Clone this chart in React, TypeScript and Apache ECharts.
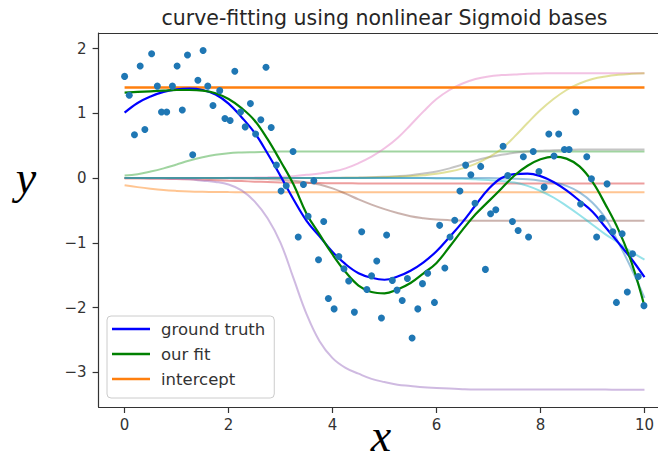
import React, { useEffect, useRef } from "react";
import * as echarts from "echarts";

// x positions at which the smooth curves are sampled (0 .. 10, step 0.25)
const curveX = [
  0, 0.25, 0.5, 0.75, 1, 1.25, 1.5, 1.75, 2, 2.25, 2.5, 2.75, 3, 3.25, 3.5, 3.75,
  4, 4.25, 4.5, 4.75, 5, 5.25, 5.5, 5.75, 6, 6.25, 6.5, 6.75, 7, 7.25, 7.5, 7.75,
  8, 8.25, 8.5, 8.75, 9, 9.25, 9.5, 9.75, 10,
];

const groundTruth = [
  1.01, 1.16, 1.26, 1.33, 1.37, 1.38, 1.36, 1.29, 1.15, 0.94, 0.7, 0.38,
  0.03, -0.33, -0.66, -0.9, -1.14, -1.33, -1.47, -1.54, -1.57, -1.52, -1.43, -1.3,
  -1.13, -0.91, -0.68, -0.42, -0.17, 0.0, 0.06, 0.07, 0.03, -0.06, -0.19, -0.35,
  -0.52, -0.76, -1.0, -1.25, -1.53,
];

const ourFit = [
  1.32, 1.33, 1.34, 1.35, 1.36, 1.36, 1.35, 1.31, 1.22, 1.08, 0.89, 0.6,
  0.26, -0.1, -0.55, -0.87, -1.18, -1.45, -1.66, -1.76, -1.78, -1.72, -1.62, -1.47,
  -1.31, -1.06, -0.8, -0.56, -0.36, -0.16, 0.04, 0.19, 0.29, 0.33, 0.3, 0.18,
  -0.06, -0.41, -0.8, -1.3, -1.98,
];

const interceptX = [0, 10];
const interceptY = [1.4, 1.4];

// individual weighted sigmoid bases (matplotlib colour cycle order)
const basisC1 = [
  -0.11, -0.14, -0.165, -0.185, -0.198, -0.207, -0.212, -0.215, -0.217, -0.218, -0.219, -0.22,
  -0.22, -0.22, -0.22, -0.22, -0.22, -0.22, -0.22, -0.22, -0.22, -0.22, -0.22, -0.22,
  -0.22, -0.22, -0.22, -0.22, -0.22, -0.22, -0.22, -0.22, -0.22, -0.22, -0.22, -0.22,
  -0.22, -0.22, -0.22, -0.22, -0.22,
];
const basisC2 = [
  0.04, 0.06, 0.1, 0.15, 0.21, 0.27, 0.32, 0.36, 0.385, 0.395, 0.4, 0.405,
  0.41, 0.41, 0.41, 0.41, 0.41, 0.41, 0.41, 0.41, 0.41, 0.41, 0.41, 0.41,
  0.41, 0.41, 0.41, 0.41, 0.41, 0.41, 0.41, 0.41, 0.41, 0.41, 0.41, 0.41,
  0.41, 0.41, 0.41, 0.41, 0.41,
];
const basisC3 = [
  -0.005, -0.007, -0.01, -0.012, -0.015, -0.02, -0.025, -0.032, -0.04, -0.047, -0.055, -0.061,
  -0.067, -0.071, -0.075, -0.078, -0.08, -0.081, -0.082, -0.082, -0.082, -0.082, -0.082, -0.082,
  -0.082, -0.082, -0.082, -0.082, -0.082, -0.082, -0.082, -0.082, -0.082, -0.082, -0.082, -0.082,
  -0.082, -0.082, -0.082, -0.082, -0.082,
];
const basisC4 = [
  0, 0, -0.003, -0.005, -0.01, -0.02, -0.04, -0.06, -0.1, -0.19, -0.36, -0.62,
  -1.0, -1.55, -2.1, -2.52, -2.78, -2.93, -3.02, -3.1, -3.15, -3.19, -3.21, -3.23,
  -3.24, -3.25, -3.26, -3.265, -3.265, -3.265, -3.265, -3.265, -3.265, -3.265, -3.265, -3.265,
  -3.265, -3.265, -3.27, -3.27, -3.27,
];
const basisC5 = [
  0, 0, 0, 0, 0, 0, 0, -0.002, -0.004, -0.006, -0.01, -0.016,
  -0.025, -0.04, -0.065, -0.1, -0.16, -0.24, -0.33, -0.41, -0.48, -0.54, -0.59, -0.62,
  -0.64, -0.65, -0.655, -0.66, -0.66, -0.66, -0.66, -0.66, -0.66, -0.66, -0.66, -0.66,
  -0.66, -0.66, -0.66, -0.66, -0.66,
];
const basisC6 = [
  0, 0, 0, 0, 0, 0, 0, 0, 0.003, 0.005, 0.008, 0.013,
  0.02, 0.03, 0.05, 0.07, 0.1, 0.15, 0.23, 0.33, 0.46, 0.62, 0.82, 1.03,
  1.22, 1.36, 1.46, 1.53, 1.57, 1.59, 1.6, 1.61, 1.615, 1.62, 1.62, 1.62,
  1.62, 1.62, 1.62, 1.62, 1.62,
];
const basisC7 = [
  0, 0, 0, 0, 0, 0, 0, 0, 0, 0, 0, 0,
  0, 0, 0, 0, 0.003, 0.005, 0.008, 0.012, 0.02, 0.03, 0.045, 0.07,
  0.1, 0.15, 0.21, 0.27, 0.32, 0.36, 0.39, 0.41, 0.42, 0.43, 0.435, 0.44,
  0.44, 0.44, 0.44, 0.44, 0.44,
];
const basisC8 = [
  0, 0, 0, 0, 0, 0, 0, 0, 0, 0, 0, 0,
  0, 0, 0, 0, 0, 0.003, 0.005, 0.008, 0.012, 0.02, 0.03, 0.045,
  0.065, 0.1, 0.15, 0.22, 0.32, 0.45, 0.64, 0.85, 1.05, 1.22, 1.36, 1.46,
  1.53, 1.57, 1.595, 1.61, 1.62,
];
const basisC9 = [
  0, 0, 0, 0, 0, 0, 0, 0, 0, 0, 0, 0,
  0, 0, 0, 0, 0, 0, 0, 0, 0, 0, 0, 0,
  -0.005, -0.008, -0.012, -0.02, -0.03, -0.045, -0.07, -0.12, -0.2, -0.3, -0.43, -0.57,
  -0.72, -0.87, -1.0, -1.14, -1.26,
];
const basisC0 = [
  0, 0, 0, 0, 0, 0, 0, 0, 0, 0, 0, 0,
  0, 0, 0, 0, 0, 0, 0, 0, 0, 0, 0, 0,
  0, 0, 0, 0, 0, -0.005, -0.01, -0.02, -0.04, -0.07, -0.12, -0.22,
  -0.38, -0.62, -1.0, -1.4, -1.85,
];

// noisy observations
const pointX = [
  0.0, 0.09, 0.19, 0.3, 0.39, 0.52, 0.63, 0.71, 0.81, 0.92, 1.01, 1.11, 1.21, 1.31, 1.41,
  1.51, 1.6, 1.7, 1.83, 1.93, 2.03, 2.12, 2.23, 2.32, 2.42, 2.52, 2.62, 2.72, 2.82, 2.92,
  3.01, 3.11, 3.24, 3.34, 3.44, 3.53, 3.64, 3.73, 3.83, 3.92, 4.03, 4.12, 4.22, 4.31, 4.42,
  4.56, 4.66, 4.75, 4.85, 4.94, 5.04, 5.15, 5.24, 5.34, 5.44, 5.53, 5.64, 5.73, 5.83, 5.96,
  6.06, 6.16, 6.26, 6.35, 6.45, 6.56, 6.66, 6.74, 6.85, 6.94, 7.04, 7.14, 7.28, 7.37, 7.46,
  7.57, 7.67, 7.77, 7.86, 7.97, 8.07, 8.16, 8.26, 8.35, 8.46, 8.55, 8.68, 8.77, 8.89, 8.98,
  9.08, 9.18, 9.28, 9.39, 9.46, 9.57, 9.67, 9.77, 9.88, 9.99,
];
const pointY = [
  1.57, 1.28, 0.67, 1.73, 0.75, 1.92, 1.42, 1.02, 1.02, 1.42, 1.73, 1.05, 1.9, 0.36, 1.51,
  1.97, 1.42, 1.12, 1.35, 0.92, 0.89, 1.65, 1.02, 0.79, 1.15, 0.68, 0.9, 1.71, 0.78, 0.2,
  -0.2, -0.12, 0.41, -0.91, -0.1, -0.59, -0.04, -1.26, -0.67, -1.86, -2.02, -1.21, -1.4, -1.59, -2.07,
  -0.83, -1.72, -1.51, -1.28, -2.16, -0.88, -1.58, -1.73, -1.89, -1.55, -2.47, -2.02, -1.63, -1.47, -1.92,
  -0.73, -1.39, -0.91, -0.65, -0.2, 0.2, 0.05, -0.39, 0.18, -1.41, -0.55, -0.49, 0.49, 0.04, -0.67,
  -0.81, 0.33, -0.91, 0.41, 0.1, -0.14, 0.68, 0.34, 0.68, 0.44, 0.44, 1.02, -0.4, 0.33, -0.01,
  -0.91, -0.62, -0.09, -0.83, -1.92, -0.86, -1.76, -1.17, -1.52, -1.97,
];

const xTicks = [0, 2, 4, 6, 8, 10];
const yTicks = [-3, -2, -1, 0, 1, 2];
const legendNames = ["ground truth", "our fit", "intercept"];

const bases: [number[], string][] = [
  [basisC1, "#ff7f0e"],
  [basisC2, "#2ca02c"],
  [basisC3, "#d62728"],
  [basisC4, "#9467bd"],
  [basisC5, "#8c564b"],
  [basisC6, "#e377c2"],
  [basisC7, "#7f7f7f"],
  [basisC8, "#bcbd22"],
  [basisC9, "#17becf"],
  [basisC0, "#1f77b4"],
];

const pairs = (xs: number[], ys: number[]) => xs.map((x, i) => [x, ys[i]]);

export default function App() {
  const ref = useRef<HTMLDivElement>(null);
  useEffect(() => {
    if (!ref.current) return;
    const chart = echarts.init(ref.current, null, { renderer: "svg" });
    const font = "DejaVu Sans";
    const tickColor = "#333";
    const spine = { show: true, onZero: false, lineStyle: { color: "#333", width: 1.2 } };
    const basisSeries = bases.map(([ys, color], i) => ({
      name: "basis" + i,
      type: "line",
      data: pairs(curveX, ys),
      showSymbol: false,
      symbol: "none",
      smooth: 0.4,
      silent: true,
      lineStyle: { color, width: 2, opacity: 0.45 },
      itemStyle: { color },
      z: 2,
    }));
    const option: any = {
      animation: false,
      grid: {
        left: 98.6,
        top: 33,
        right: 0,
        bottom: 53,
        show: false,
      },
      xAxis: [
        {
          type: "value",
          position: "bottom",
          min: -0.5,
          max: 10.26,
          axisLine: spine,
          splitLine: { show: false },
          axisTick: {
            show: true,
            length: 6,
            customValues: xTicks,
            lineStyle: { color: tickColor, width: 1.2 },
          },
          axisLabel: {
            customValues: xTicks,
            margin: 10,
            fontSize: 15,
            fontFamily: font,
            color: tickColor,
          },
        },
        {
          type: "value",
          position: "top",
          min: -0.5,
          max: 10.26,
          axisLine: spine,
          splitLine: { show: false },
          axisTick: { show: false },
          axisLabel: { show: false },
        },
      ],
      yAxis: {
        type: "value",
        min: -3.535,
        max: 2.24,
        axisLine: spine,
        splitLine: { show: false },
        axisTick: {
          show: true,
          length: 6,
          customValues: yTicks,
          lineStyle: { color: tickColor, width: 1.2 },
        },
        axisLabel: {
          customValues: yTicks,
          margin: 12,
          fontSize: 15,
          fontFamily: font,
          color: tickColor,
          formatter: (v: number) => (v < 0 ? "\u2212" + Math.abs(v) : String(v)),
        },
      },
      legend: {
        data: legendNames,
        orient: "vertical",
        left: 107,
        top: 316,
        icon: "rect",
        itemWidth: 38,
        itemHeight: 2.5,
        itemGap: 5,
        padding: [3, 9, 9, 5],
        backgroundColor: "rgba(255,255,255,0.8)",
        borderColor: "#cccccc",
        borderWidth: 1,
        borderRadius: 4,
        selectedMode: false,
        textStyle: {
          fontSize: 16.5,
          fontFamily: font,
          color: "#333",
          lineHeight: 20,
          padding: [0, 0, 0, 6],
        },
      },
      graphic: [
        {
          type: "text",
          x: 384.5,
          y: 18,
          style: {
            text: "curve-fitting using nonlinear Sigmoid bases",
            fontSize: 20.5,
            fontFamily: font,
            fill: "#262626",
            align: "center",
            verticalAlign: "middle",
            textAlign: "center",
            textVerticalAlign: "middle",
          },
        },
        {
          type: "text",
          x: 381,
          y: 458,
          style: {
            text: "x",
            fontSize: 46,
            fontStyle: "italic",
            fontFamily: "Liberation Serif",
            fill: "#000",
            align: "center",
            verticalAlign: "bottom",
            textAlign: "center",
            textVerticalAlign: "bottom",
          },
        },
        {
          type: "text",
          x: 26,
          y: 177,
          style: {
            text: "y",
            fontSize: 46,
            fontStyle: "italic",
            fontFamily: "Liberation Serif",
            fill: "#000",
            align: "center",
            verticalAlign: "middle",
            textAlign: "center",
            textVerticalAlign: "middle",
          },
        },
      ],
      series: [
        ...basisSeries,
        {
          name: "intercept",
          type: "line",
          data: pairs(interceptX, interceptY),
          showSymbol: false,
          symbol: "none",
          silent: true,
          lineStyle: { color: "#ff7f0e", width: 2.5 },
          itemStyle: { color: "#ff7f0e" },
          z: 3,
        },
        {
          name: "ground truth",
          type: "line",
          data: pairs(curveX, groundTruth),
          showSymbol: false,
          symbol: "none",
          smooth: 0.4,
          silent: true,
          lineStyle: { color: "#0000ff", width: 2.2 },
          itemStyle: { color: "#0000ff" },
          z: 3,
        },
        {
          name: "our fit",
          type: "line",
          data: pairs(curveX, ourFit),
          showSymbol: false,
          symbol: "none",
          smooth: 0.4,
          silent: true,
          lineStyle: { color: "#008000", width: 2.2 },
          itemStyle: { color: "#008000" },
          z: 3,
        },
        {
          name: "observations",
          type: "scatter",
          data: pairs(pointX, pointY),
          symbolSize: 7,
          silent: true,
          itemStyle: { color: "#1f77b4", opacity: 1 },
          z: 4,
        },
      ],
    };
    chart.setOption(option);
    return () => chart.dispose();
  }, []);
  return (
    <div
      ref={ref}
      style={{ position: "fixed", left: 0, top: 0, width: 658, height: 460, background: "#fff" }}
    />
  );
}
